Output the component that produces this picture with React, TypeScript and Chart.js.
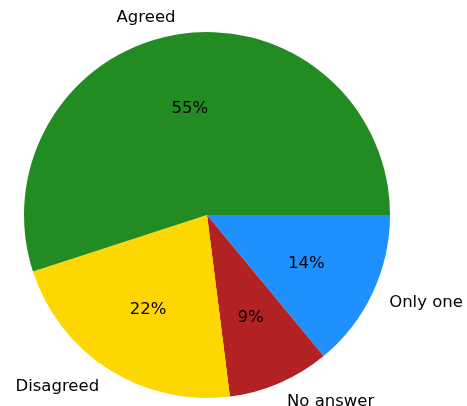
import React, { useEffect, useRef } from "react";
import { Chart, registerables } from "chart.js";

Chart.register(...registerables);

// Matplotlib order (counter-clockwise from 3 o'clock)
const labels = ["Agreed", "Disagreed", "No answer", "Only one"];
const values = [55, 22, 9, 14];
const colors = ["#228B22", "#FFD700", "#B22222", "#1E90FF"];

const FONT_SIZE = 16.5;
const FONT = `${FONT_SIZE}px 'DejaVu Sans', sans-serif`;

// Chart.js draws clockwise, so data is reversed
function chartIndexToLabel(i: number) {
  return labels.length - 1 - i;
}

const labelPlugin = {
  id: "mplLabels",
  afterDatasetsDraw(chart: any) {
    const meta = chart.getDatasetMeta(0);
    const ctx = chart.ctx;
    ctx.save();
    ctx.font = FONT;
    ctx.fillStyle = "#000";
    ctx.textBaseline = "alphabetic";
    const dy = 0.3645 * FONT_SIZE;
    const total = values.reduce((a, b) => a + b, 0);
    meta.data.forEach((arc: any, i: number) => {
      const { x, y, startAngle, endAngle, outerRadius } = arc.getProps(
        ["x", "y", "startAngle", "endAngle", "outerRadius"],
        true
      );
      const mid = (startAngle + endAngle) / 2;
      const c = Math.cos(mid);
      const s = Math.sin(mid);
      const idx = chartIndexToLabel(i);
      const lx = x + 1.1 * outerRadius * c;
      const ly = y + 1.1 * outerRadius * s;
      ctx.textAlign = c < 0 ? "right" : "left";
      ctx.fillText(labels[idx], lx, ly + dy);
      const pct = Math.round((values[idx] / total) * 100) + "%";
      ctx.textAlign = "center";
      ctx.fillText(pct, x + 0.6 * outerRadius * c, y + 0.6 * outerRadius * s + dy);
    });
    ctx.restore();
  },
};

export default function App() {
  const ref = useRef<HTMLCanvasElement>(null);
  useEffect(() => {
    if (!ref.current) return;
    const chart = new Chart(ref.current, {
      type: "pie",
      data: {
        labels: [...labels].reverse(),
        datasets: [
          {
            data: [...values].reverse(),
            backgroundColor: [...colors].reverse(),
            borderWidth: 0,
            hoverOffset: 0,
            offset: 0,
          },
        ],
      },
      options: {
        animation: false,
        responsive: false,
        rotation: 90,
        layout: { padding: { left: 24, right: 77, top: 32, bottom: 8 } },
        plugins: {
          legend: { display: false },
          tooltip: { enabled: false },
        },
        events: [],
      },
      plugins: [labelPlugin],
    });
    return () => chart.destroy();
  }, []);
  return (
    <div style={{ position: "fixed", left: 0, top: 0, width: 467, height: 406, background: "#fff" }}>
      <canvas ref={ref} width={467} height={406} style={{ width: 467, height: 406 }} />
    </div>
  );
}
